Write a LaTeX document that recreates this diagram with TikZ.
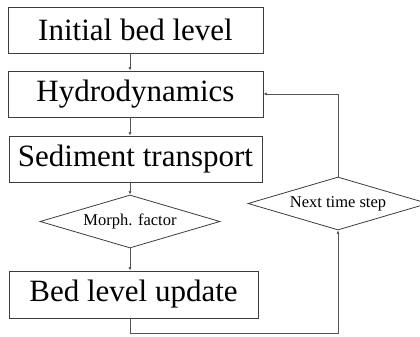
\documentclass[tikz,border=0pt]{standalone}
\usepackage{fontspec}
\setmainfont{Liberation Serif}
\usetikzlibrary{arrows.meta,shapes.geometric}
\tikzset{>={Latex[width=3pt,length=3.5pt]}}
\definecolor{LineGray}{RGB}{60,60,60}
\definecolor{ArrowGray}{RGB}{85,85,85}
\tikzset{
  stepbox/.style={draw=LineGray,line width=0.9pt,rectangle,inner sep=0pt,
    minimum width=255pt,minimum height=46pt,font=\fontsize{31}{31}\selectfont},
  choice/.style={draw=LineGray,line width=0.8pt,diamond,aspect=3.4,inner sep=0pt,
    minimum width=180pt,minimum height=53pt,font=\fontsize{16.5}{16.5}\selectfont},
  flow/.style={->,draw=ArrowGray,line width=0.6pt}
}

\begin{document}
\begin{tikzpicture}[x=1pt,y=-1pt]
		% frame
		\clip (0,0) rectangle (420,337);
		\useasboundingbox (0,0) rectangle (420,337);
		% boxes
		\node[stepbox] (init) at (135.5,30) {Initial bed level};
		\node[stepbox] (hydro) at (135.5,94) {Hydrodynamics};
		\node[stepbox,minimum width=253pt] (sed) at (135.5,159) {Sediment transport};
		\node[choice] (morph) at (130,221.5) {Morph. factor};
		\node[stepbox,minimum width=249pt,minimum height=47pt] (bed) at (133.5,294.5) {Bed level update};
		\node[choice] (next) at (338,203.5) {Next time step};

		% arrows down
		\draw[flow] (init.south -| morph) -- (hydro.north -| morph);
		\draw[flow] (hydro.south -| morph) -- (sed.north -| morph);
		\draw[flow] (sed.south -| morph) -- (morph.north);
		\draw[flow] (morph.south) -- (bed.north -| morph);

		% loop back
		\draw[flow] (bed.south -| morph) -- ++(0,15) -| (next.south);
		\draw[flow] (next.north) |- (hydro.east);
	\end{tikzpicture}
\end{document}
